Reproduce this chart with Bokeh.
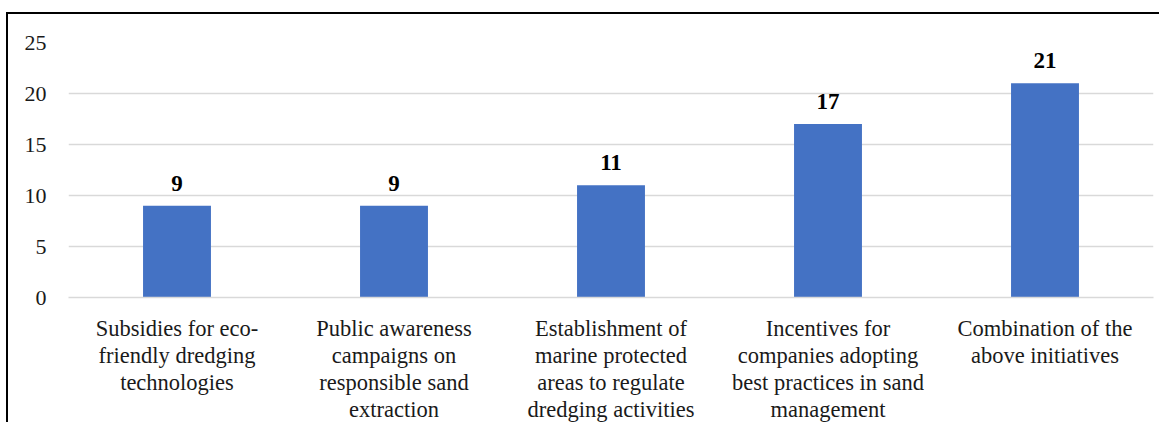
from bokeh.plotting import figure
from bokeh.models import ColumnDataSource, Range1d, FixedTicker
from bokeh.core.properties import value
from bokeh.embed import file_html
from bokeh.resources import INLINE

categories = [
    "Subsidies for eco-\nfriendly dredging\ntechnologies",
    "Public awareness\ncampaigns on\nresponsible sand\nextraction",
    "Establishment of\nmarine protected\nareas to regulate\ndredging activities",
    "Incentives for\ncompanies adopting\nbest practices in sand\nmanagement",
    "Combination of the\nabove initiatives",
]
counts = [9, 9, 11, 17, 21]
y_ticks = [0, 5, 10, 15, 20, 25]

FONT = "Liberation Serif"

source = ColumnDataSource(dict(cat=categories, val=counts, lab=[str(v) for v in counts]))

p = figure(
    x_range=categories,
    y_range=Range1d(0, 25),
    width=1153,
    height=410,
    output_backend="svg",
    toolbar_location=None,
    min_border_left=60,
    min_border_right=8,
    min_border_top=28,
    min_border_bottom=125,
    margin=(12, 0, 0, 6),
    styles={"border-left": "2px solid black", "border-top": "2px solid black"},
)
p.outline_line_color = None
p.background_fill_color = "white"
p.border_fill_color = "white"

p.vbar(x="cat", top="val", width=0.313, source=source, color="#4472C4", line_color=None)
p.text(x="cat", y="val", text="lab", source=source, text_align="center",
       text_baseline="bottom", y_offset=-15, text_font=value(FONT),
       text_font_size="23px", text_font_style="bold", text_color="black")

p.xgrid.grid_line_color = None
p.ygrid.grid_line_color = "#d9d9d9"
p.ygrid.grid_line_width = 1.5
p.yaxis.ticker = FixedTicker(ticks=y_ticks)

p.yaxis.axis_line_color = None
p.yaxis.major_tick_line_color = None
p.yaxis.minor_tick_line_color = None
p.yaxis.major_label_standoff = 16
p.yaxis.major_label_text_font = FONT
p.yaxis.major_label_text_font_size = "22px"
p.yaxis.major_label_text_color = "#1a1a1a"

p.xaxis.axis_line_color = "#d9d9d9"
p.xaxis.axis_line_width = 1.5
p.xaxis.major_tick_line_color = None
p.xaxis.minor_tick_line_color = None
p.xaxis.major_label_standoff = 12
p.xaxis.major_label_text_font = FONT
p.xaxis.major_label_text_font_size = "22.5px"
p.xaxis.major_label_text_color = "#1a1a1a"
p.xaxis.major_label_text_line_height = 1.08
p.xaxis.major_label_orientation = "horizontal"

open("out.html", "w").write(file_html(p, INLINE))
